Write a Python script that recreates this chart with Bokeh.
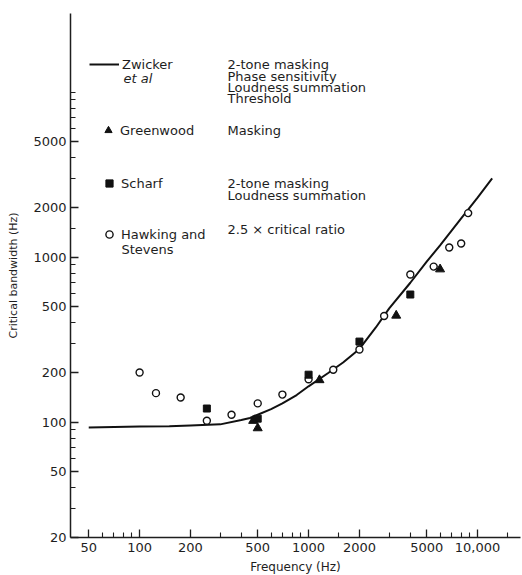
from bokeh.plotting import figure
from bokeh.models import (FixedTicker, Label, Legend, LegendItem,
                          CustomJSTickFormatter, Range1d)
from bokeh.embed import file_html
from bokeh.resources import INLINE

# ---- data ----
zw_freq = [50, 100, 150, 200, 300, 400, 450, 500, 600, 700, 850, 1000, 1300,
           1600, 2000, 2500, 3000, 4000, 5000, 6000, 8000, 10000, 12200]
zw_bw = [93, 94, 94.5, 95.5, 97, 103, 106, 111, 120, 130, 146, 165, 198,
         230, 278, 375, 490, 700, 940, 1180, 1720, 2300, 3000]

gw_freq = [470, 500, 1160, 3300, 6000]
gw_bw = [102, 92, 180, 443, 845]

sc_freq = [250, 500, 1000, 2000, 4000]
sc_bw = [121, 105, 194, 308, 594]

hs_freq = [100, 125, 175, 250, 350, 500, 700, 1000, 1400, 2000, 2800, 4000,
           5500, 6800, 8000, 8800]
hs_bw = [200, 150, 141, 102, 111, 130, 147, 182, 208, 276, 440, 785,
         877, 1145, 1210, 1850]

x_ticks = [50, 100, 200, 500, 1000, 2000, 5000, 10000]
x_minor = [60, 70, 80, 90, 300, 400, 600, 700, 800, 900, 1500, 3000, 4000,
           6000, 7000, 8000, 9000, 15000]
y_ticks = [20, 50, 100, 200, 500, 1000, 2000, 5000]
y_minor = [30, 40, 60, 70, 80, 90, 300, 400, 600, 700, 800, 900, 1500,
           3000, 4000, 6000, 7000, 8000, 9000, 10000]

FONT = "DejaVu Sans"
INK = "#1e1e1e"

p = figure(x_axis_type="log", y_axis_type="log",
           x_range=Range1d(39, 17950), y_range=Range1d(20, 30000),
           frame_width=450, frame_height=524,
           min_border_left=70, min_border_top=13, min_border_right=1,
           min_border_bottom=0,
           output_backend="svg", toolbar_location=None)
p.outline_line_color = None
p.xgrid.visible = False
p.ygrid.visible = False
p.background_fill_color = "white"
p.border_fill_color = "white"

for ax, ticks, minor in ((p.xaxis[0], x_ticks, x_minor), (p.yaxis[0], y_ticks, y_minor)):
    ax.ticker = FixedTicker(ticks=ticks, minor_ticks=minor)
    ax.axis_line_width = 1.5
    ax.axis_line_color = INK
    ax.major_tick_line_color = INK
    ax.minor_tick_line_color = INK
    ax.major_tick_line_width = 1.3
    ax.minor_tick_line_width = 1.1
    ax.major_tick_in = 8
    ax.major_tick_out = 0
    ax.minor_tick_in = 5
    ax.minor_tick_out = 0
    ax.major_label_text_font = FONT
    ax.major_label_text_font_size = "13px"
    ax.major_label_text_color = INK
    ax.axis_label_text_font = FONT
    ax.axis_label_text_font_style = "normal"
    ax.axis_label_text_color = INK

p.xaxis.major_label_standoff = 5
p.yaxis.major_label_standoff = 4
p.xaxis.formatter = CustomJSTickFormatter(
    code="return tick >= 10000 ? Math.round(tick).toLocaleString('en-US') : String(Math.round(tick));")
p.yaxis.formatter = CustomJSTickFormatter(code="return String(Math.round(tick));")
p.xaxis.axis_label = "Frequency (Hz)"
p.xaxis.axis_label_text_font_size = "12px"
p.xaxis.axis_label_standoff = 5
p.yaxis.axis_label = "Critical bandwidth (Hz)"
p.yaxis.axis_label_text_font_size = "11px"
p.yaxis.axis_label_standoff = 10

# ---- marks ----
zw = p.line(zw_freq, zw_bw, line_color="#111111", line_width=2)
hs = p.scatter(hs_freq, hs_bw, marker="circle", size=7, fill_color="white",
               line_color="#111111", line_width=1.4)
sc = p.scatter(sc_freq, sc_bw, marker="square", size=7, fill_color="#111111",
               line_color="#111111", line_width=1)
gw = p.scatter(gw_freq, gw_bw, marker="triangle", size=9, fill_color="#111111",
               line_color="#111111", line_width=1)

# ---- legend rows (one legend per row, placed in frame px from bottom-left) ----
FL, FB = 70, 537  # frame left / bottom in page px


def add_row(label, renderer, glyph_w, left_px, center_py):
    leg = Legend(items=[LegendItem(label=label, renderers=[renderer])],
                 location=(left_px - FL, FB - (center_py + 9)),
                 glyph_width=glyph_w, glyph_height=18, label_height=18,
                 label_standoff=3, padding=0, margin=0, spacing=0,
                 border_line_color=None, background_fill_alpha=0,
                 label_text_font=FONT, label_text_font_size="13px",
                 label_text_color=INK)
    p.add_layout(leg)


add_row("Zwicker", zw, 30, 89, 64)
add_row("Greenwood", gw, 18, 99, 130)
add_row("Scharf", sc, 18, 100, 183)
add_row("Hawking and", hs, 18, 100, 234)


def add_text(txt, px, py, style="normal"):
    p.add_layout(Label(x=px - FL, y=FB - py, x_units="screen", y_units="screen",
                       text=txt, text_font=FONT, text_font_size="13px",
                       text_font_style=style, text_color=INK,
                       text_baseline="middle", text_align="left"))


add_text("et al", 123, 78, "italic")
add_text("Stevens", 121, 249)

desc = [("2-tone masking", 64), ("Phase sensitivity", 76),
        ("Loudness summation", 87), ("Threshold", 98), ("Masking", 130),
        ("2-tone masking", 183), ("Loudness summation", 195),
        ("2.5 \u00d7 critical ratio", 229)]
for t, py in desc:
    add_text(t, 227, py)

open("out.html", "w").write(file_html(p, INLINE))
